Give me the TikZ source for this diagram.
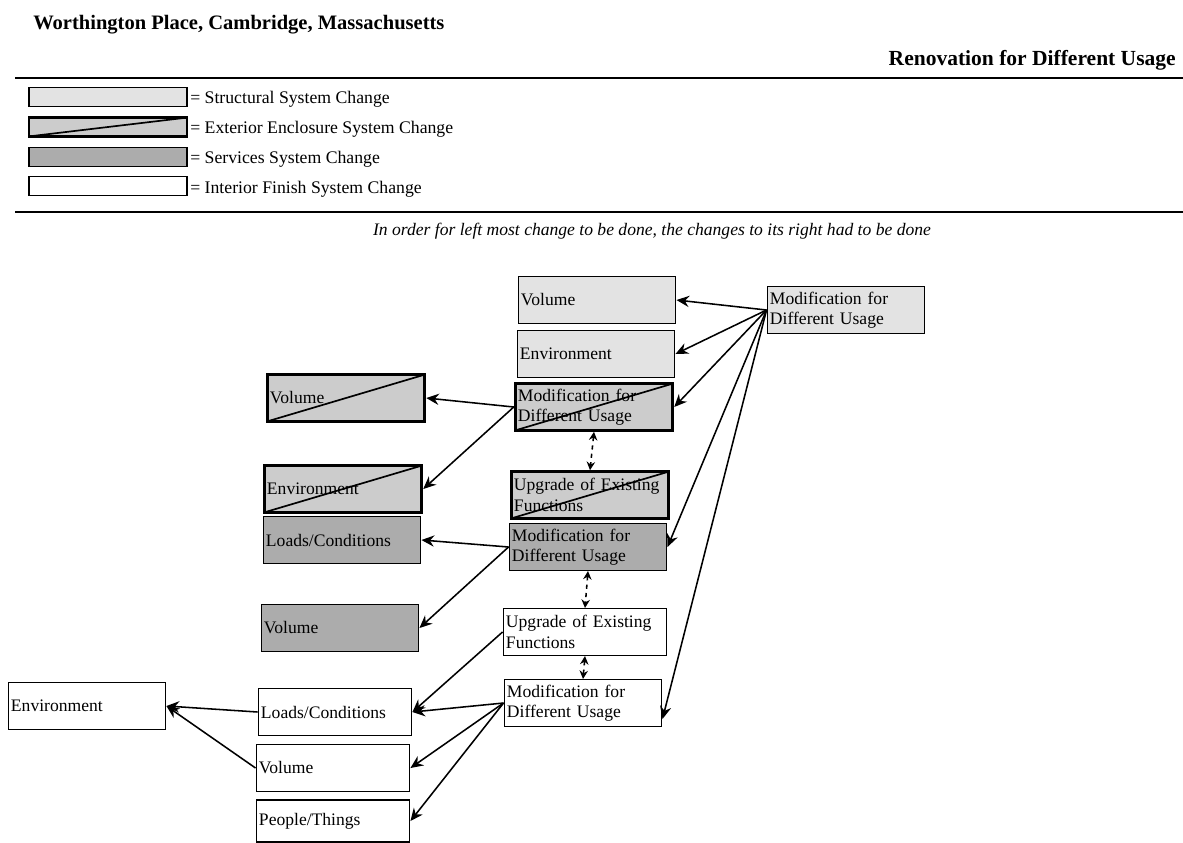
\documentclass[tikz,border=0pt]{standalone}
\usepackage{fontspec}
\setmainfont{Liberation Serif}
\usepackage{tikz}
\usetikzlibrary{positioning,shapes,arrows,arrows.meta,calc}
\tikzstyle{arrow} = [line width=1.1pt,->,>={Stealth[length=9pt,width=8pt,inset=3pt]}]
\tikzstyle{dblarrow} = [line width=1.1pt,<->,>={Stealth[length=6pt,width=6pt,inset=2pt]},dashed]
\tikzstyle{box} = [rectangle, draw=black, line width=0.9pt, minimum height=1.17cm, text width=3.8cm, align=left, inner sep=2pt, font=\fontsize{12.5}{14.5}\selectfont]
\tikzstyle{structural} = [box, fill=gray!22]
\tikzstyle{exterior} = [box, fill=gray!40, line width=2pt, path picture={\draw[line width=1.2pt] (path picture bounding box.south west) -- (path picture bounding box.north east);}]
\tikzstyle{services} = [box, fill=gray!65]
\tikzstyle{interior} = [box, fill=white]
\tikzstyle{legbox} = [rectangle, draw=black, line width=0.9pt, minimum width=3.95cm, minimum height=0.47cm, inner sep=0pt]
\tikzstyle{legtext} = [anchor=west, inner sep=0pt, font=\fontsize{12.6}{14}\selectfont]

\begin{document}
\begin{tikzpicture}[x=0.025cm, y=-0.025cm]
            \useasboundingbox (0,0) rectangle (1183,842);

            % header
            \node[anchor=west, inner sep=0pt, font=\fontsize{14.6}{16}\selectfont\bfseries] (title) at (33,25) {Worthington Place, Cambridge, Massachusetts};
            \node[anchor=east, inner sep=0pt, font=\fontsize{15.3}{17}\selectfont\bfseries] (usage) at (1176,60) {Renovation for Different Usage};
            \coordinate (r1a) at (15,78); \coordinate (r1b) at (1183,78);
            \draw[line width=1.5pt] (r1a) -- (r1b);

            % legend
            \node[legbox, fill=gray!22] (lg1) at (108,97) {};
            \node[legbox, fill=gray!40, line width=2pt, path picture={\draw[line width=1.2pt] (path picture bounding box.south west) -- (path picture bounding box.north east);}] (lg2) at (108,127) {};
            \node[legbox, fill=gray!65] (lg3) at (108,157) {};
            \node[legbox, fill=white] (lg4) at (108,186) {};
            \node[legtext] (lt1) at (190,99) {= Structural System Change};
            \node[legtext] (lt2) at (190,129) {= Exterior Enclosure System Change};
            \node[legtext] (lt3) at (190,159) {= Services System Change};
            \node[legtext] (lt4) at (190,189) {= Interior Finish System Change};
            \coordinate (r2a) at (15,212); \coordinate (r2b) at (1183,212);
            \draw[line width=1.5pt] (r2a) -- (r2b);
            \node[inner sep=0pt, font=\fontsize{12.5}{14}\selectfont\itshape] (note) at (652,231) {In order for left most change to be done, the changes to its right had to be done};

            % structural
            \node[structural] (smod) at (846,310) {Modification for\\Different Usage};
            \node[structural] (svol) at (597,300) {Volume};
            \node[structural] (senv) at (596,354) {Environment};

            % exterior enclosure
            \node[exterior] (emod) at (594,407) {Modification for\\Different Usage};
            \node[exterior] (evol) at (346,398) {Volume};
            \node[exterior] (eenv) at (343,489) {Environment};
            \node[exterior] (eupg) at (590,495) {Upgrade of Existing\\Functions};

            % services
            \node[services] (vmod) at (588,547) {Modification for\\Different Usage};
            \node[services] (vloads) at (342,540) {Loads/Conditions};
            \node[services] (vvol) at (340,628) {Volume};

            % interior finish
            \node[interior, text width=3.95cm] (iupg) at (585,632) {Upgrade of Existing\\Functions};
            \node[interior] (imod) at (583,703) {Modification for\\Different Usage};
            \node[interior, text width=3.7cm] (iloads) at (335,712) {Loads/Conditions};
            \node[interior] (ienv) at (87,706) {Environment};
            \node[interior, text width=3.7cm] (ivol) at (333,768) {Volume};
            \node[interior, text width=3.7cm, minimum height=1.05cm] (ippl) at (333,821) {People/Things};

            \draw[arrow] (smod.west) -- (svol.east);
            \draw[arrow] (smod.west) -- (senv.east);
            \draw[arrow] (smod.west) -- (emod.east);
            \draw[arrow] (smod.west) -- (vmod.east);
            \draw[arrow] (smod.west) -- ([yshift=-0.4cm]imod.east);

            \draw[arrow] (emod.west) -- (evol.east);
            \draw[arrow] (emod.west) -- (eenv.east);
            \draw[dblarrow] (emod.south) -- (eupg.north);

            \draw[arrow] (vmod.west) -- (vloads.east);
            \draw[arrow] (vmod.west) -- (vvol.east);
            \draw[dblarrow] (vmod.south) -- (iupg.north);

            \draw[arrow] (iupg.west) -- (iloads.east);
            \draw[dblarrow] (iupg.south) -- (imod.north);
            \draw[arrow] (imod.west) -- (iloads.east);
            \draw[arrow] (imod.west) -- (ivol.east);
            \draw[arrow] (imod.west) -- (ippl.east);
            \draw[arrow] (iloads.west) -- (ienv.east);
            \draw[arrow] (ivol.west) -- (ienv.east);
            \end{tikzpicture}
\end{document}
